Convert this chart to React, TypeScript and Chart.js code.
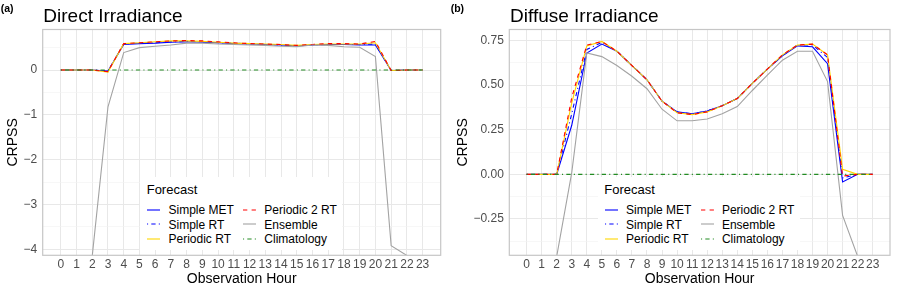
import React, { useEffect, useRef } from 'react';
import { Chart, registerables } from 'chart.js';

Chart.register(...registerables);

// ---------- data ----------
const hours = [0, 1, 2, 3, 4, 5, 6, 7, 8, 9, 10, 11, 12, 13, 14, 15, 16, 17, 18, 19, 20, 21, 22, 23];
const seriesNames = ['Simple MET', 'Simple RT', 'Periodic RT', 'Periodic 2 RT', 'Ensemble', 'Climatology'];

const directSimpleMET = [0, 0, 0, -0.02, 0.57, 0.59, 0.60, 0.62, 0.63, 0.62, 0.61, 0.59, 0.58, 0.57, 0.56, 0.54, 0.56, 0.57, 0.57, 0.56, 0.56, -0.01, 0, 0];
const directSimpleRT = [0, 0, 0, -0.02, 0.58, 0.60, 0.61, 0.63, 0.64, 0.63, 0.61, 0.60, 0.58, 0.57, 0.56, 0.54, 0.56, 0.57, 0.57, 0.57, 0.58, -0.01, 0, 0];
const directPeriodicRT = [0, 0, 0, -0.045, 0.59, 0.61, 0.63, 0.65, 0.65, 0.64, 0.62, 0.60, 0.59, 0.58, 0.57, 0.55, 0.57, 0.58, 0.58, 0.58, 0.61, -0.01, 0, 0];
const directPeriodic2RT = [0, 0, 0, -0.035, 0.59, 0.61, 0.63, 0.65, 0.66, 0.65, 0.63, 0.61, 0.59, 0.58, 0.57, 0.55, 0.57, 0.59, 0.59, 0.58, 0.64, -0.01, 0, 0];
const directEnsemble = [-4.2, -4.2, -4.15, -0.82, 0.39, 0.50, 0.53, 0.56, 0.60, 0.60, 0.58, 0.57, 0.56, 0.55, 0.53, 0.52, 0.56, 0.55, 0.52, 0.51, 0.30, -3.92, -4.14, -4.2];
const directClimatology = [0, 0, 0, 0, 0, 0, 0, 0, 0, 0, 0, 0, 0, 0, 0, 0, 0, 0, 0, 0, 0, 0, 0, 0];

const diffuseSimpleMET = [0, 0, 0, 0.275, 0.68, 0.73, 0.69, 0.61, 0.53, 0.41, 0.35, 0.34, 0.355, 0.385, 0.425, 0.51, 0.59, 0.665, 0.72, 0.715, 0.62, -0.043, 0, 0];
const diffuseSimpleRT = [0, 0, 0, 0.34, 0.70, 0.74, 0.69, 0.61, 0.53, 0.41, 0.35, 0.34, 0.355, 0.385, 0.425, 0.51, 0.59, 0.665, 0.725, 0.725, 0.655, -0.02, 0, 0];
const diffusePeriodicRT = [0, 0, 0, 0.40, 0.72, 0.745, 0.69, 0.61, 0.53, 0.41, 0.345, 0.335, 0.35, 0.385, 0.425, 0.51, 0.59, 0.67, 0.725, 0.73, 0.67, 0.028, 0, 0];
const diffusePeriodic2RT = [0, 0, 0, 0.43, 0.725, 0.745, 0.69, 0.61, 0.53, 0.41, 0.345, 0.335, 0.35, 0.385, 0.425, 0.51, 0.59, 0.67, 0.725, 0.73, 0.67, -0.01, 0, 0];
const diffuseEnsemble = [-0.5, -0.5, -0.46, 0.01, 0.68, 0.66, 0.61, 0.55, 0.48, 0.365, 0.30, 0.30, 0.31, 0.34, 0.38, 0.47, 0.556, 0.64, 0.69, 0.69, 0.52, -0.23, -0.46, -0.5];
const diffuseClimatology = [0, 0, 0, 0, 0, 0, 0, 0, 0, 0, 0, 0, 0, 0, 0, 0, 0, 0, 0, 0, 0, 0, 0, 0];

const directMajorTicks = [-4, -3, -2, -1, 0];
const directMinorTicks = [-3.5, -2.5, -1.5, -0.5, 0.5];
const diffuseMajorTicks = [-0.25, 0, 0.25, 0.5, 0.75];
const diffuseMinorTicks = [-0.375, -0.125, 0.125, 0.375, 0.625];

// ---------- styles ----------
const FONT = "'Liberation Sans', Arial, Helvetica, sans-serif";
const seriesColors = ['#0000FF', '#0000FF', '#FFD700', '#FF0000', '#A3A3A3', '#228B22'];
const DOTDASH = [1.1, 3.2, 4.3, 3.2];
const DASHED = [4.3, 4.3];
const seriesDash: number[][] = [[], DOTDASH, [], DASHED, [], DOTDASH];

const minus = (s: string) => s.replace('-', '\u2212');

const panels = [
  {
    key: 'a',
    tag: '(a)',
    title: 'Direct Irradiance',
    series: [directSimpleMET, directSimpleRT, directPeriodicRT, directPeriodic2RT, directEnsemble, directClimatology],
    yMin: -4.136,
    yMax: 0.905,
    major: directMajorTicks,
    minor: directMinorTicks,
    fmt: (v: number) => minus(String(v)),
    left: 0,
    width: 450,
    yAxisWidth: 42.7,
    rightPad: 9.3,
    titleX: 43.3,
    legendX: 146.7,
  },
  {
    key: 'b',
    tag: '(b)',
    title: 'Diffuse Irradiance',
    series: [diffuseSimpleMET, diffuseSimpleRT, diffusePeriodicRT, diffusePeriodic2RT, diffuseEnsemble, diffuseClimatology],
    yMin: -0.454,
    yMax: 0.812,
    major: diffuseMajorTicks,
    minor: diffuseMinorTicks,
    fmt: (v: number) => minus(v.toFixed(2)),
    left: 450,
    width: 449,
    yAxisWidth: 59.3,
    rightPad: 9,
    titleX: 510,
    legendX: 604.3,
  },
];

const HEIGHT = 295;

const borderPlugin = {
  id: 'panelBorder',
  afterDraw(chart: any) {
    const { ctx, chartArea: a } = chart;
    ctx.save();
    ctx.strokeStyle = '#C6C6C6';
    ctx.lineWidth = 1.2;
    ctx.strokeRect(a.left, a.top, a.right - a.left, a.bottom - a.top);
    ctx.restore();
  },
};

function Panel({ p }: { p: typeof panels[number] }) {
  const ref = useRef<HTMLCanvasElement | null>(null);
  useEffect(() => {
    if (!ref.current) return;
    const majorSet = new Set(p.major);
    const allY = [...p.major, ...p.minor].sort((a, b) => a - b);
    const datasets = seriesNames.map((name, i) => ({
      label: name,
      data: hours.map((h, j) => ({ x: h, y: p.series[i][j] })),
      borderColor: seriesColors[i],
      backgroundColor: seriesColors[i],
      borderDash: seriesDash[i],
      borderWidth: 1.1,
      pointRadius: 0,
      pointHoverRadius: 0,
      tension: 0,
      fill: false,
      order: seriesNames.length - i,
    }));
    const chart = new Chart(ref.current, {
      type: 'line',
      data: { datasets },
      options: {
        animation: false,
        responsive: false,
        events: [],
        layout: { padding: { top: 29.5, right: p.rightPad, bottom: 0, left: 0 } },
        plugins: { legend: { display: false }, tooltip: { enabled: false } },
        scales: {
          x: {
            type: 'linear',
            min: -1.15,
            max: 24.15,
            afterBuildTicks: (scale: any) => {
              scale.ticks = hours.map((h) => ({ value: h }));
            },
            afterFit: (scale: any) => {
              scale.height = 39.7;
            },
            ticks: {
              autoSkip: false,
              maxRotation: 0,
              minRotation: 0,
              padding: 1.7,
              color: '#4D4D4D',
              font: { family: FONT, size: 12 },
              callback: (v: any) => String(v),
            },
            grid: { color: '#E8E8E8', lineWidth: 1, drawTicks: false },
            border: { display: false },
            title: {
              display: true,
              text: 'Observation Hour',
              color: '#000000',
              font: { family: FONT, size: 14 },
              padding: { top: 0, bottom: 7.6 },
            },
          },
          y: {
            type: 'linear',
            min: p.yMin,
            max: p.yMax,
            afterBuildTicks: (scale: any) => {
              scale.ticks = allY.map((v) => ({ value: v }));
            },
            afterFit: (scale: any) => {
              scale.width = p.yAxisWidth;
            },
            ticks: {
              padding: 5.5,
              color: '#4D4D4D',
              font: { family: FONT, size: 12 },
              callback: (v: any) => (majorSet.has(Number(v)) ? p.fmt(Number(v)) : ''),
            },
            grid: {
              drawTicks: false,
              color: (ctx: any) => (majorSet.has(ctx.tick?.value) ? '#E8E8E8' : '#F1F1F1'),
              lineWidth: (ctx: any) => (majorSet.has(ctx.tick?.value) ? 1 : 0.6),
            },
            border: { display: false },
            title: {
              display: true,
              text: 'CRPSS',
              color: '#000000',
              font: { family: FONT, size: 14 },
              padding: { top: 4.8, bottom: 0 },
            },
          },
        },
      },
      plugins: [borderPlugin],
    } as any);
    return () => chart.destroy();
  }, [p]);

  return (
    <div style={{ position: 'absolute', left: p.left, top: 0, width: p.width, height: HEIGHT }}>
      <canvas ref={ref} width={p.width} height={HEIGHT} style={{ width: p.width, height: HEIGHT, display: 'block' }} />
    </div>
  );
}

const textBase: React.CSSProperties = {
  position: 'absolute',
  whiteSpace: 'nowrap',
  fontFamily: FONT,
  color: '#000',
  margin: 0,
};

function Legend({ x0 }: { x0: number }) {
  const textOffsets = [21.8, 117.6];
  const keyOffsets = [0.3, 96.2];
  return (
    <>
      <div style={{ position: 'absolute', left: x0 - 6.7, top: 177, width: 202, height: 73, background: '#FFFFFF' }} />
      <div style={{ ...textBase, left: x0, top: 194.3 - 0.8465 * 13, fontSize: 13, lineHeight: '13px' }}>Forecast</div>
      {seriesNames.map((name, i) => {
        const col = i < 3 ? 0 : 1;
        const row = i % 3;
        const baseline = 213.8 + row * 14.9;
        const keyY = baseline - 4.3;
        return (
          <React.Fragment key={name}>
            <svg
              width={13}
              height={6}
              style={{ position: 'absolute', left: x0 + keyOffsets[col], top: keyY - 3 }}
            >
              <line
                x1={0}
                y1={3}
                x2={13}
                y2={3}
                stroke={seriesColors[i]}
                strokeWidth={1.1}
                strokeDasharray={seriesDash[i].length ? seriesDash[i].join(' ') : undefined}
              />
            </svg>
            <div
              style={{
                ...textBase,
                left: x0 + textOffsets[col],
                top: baseline - 0.8465 * 12,
                fontSize: 12,
                lineHeight: '12px',
              }}
            >
              {name}
            </div>
          </React.Fragment>
        );
      })}
    </>
  );
}

export default function App() {
  useEffect(() => {
    document.body.style.margin = '0';
  }, []);
  return (
    <div style={{ position: 'absolute', left: 0, top: 0, width: 899, height: HEIGHT, background: '#FFFFFF', overflow: 'hidden' }}>
      {panels.map((p) => (
        <Panel key={p.key} p={p} />
      ))}
      {panels.map((p) => (
        <React.Fragment key={p.key + 'txt'}>
          <div style={{ ...textBase, left: p.left + 0.7, top: 12 - 0.8465 * 10.5, fontSize: 10.5, lineHeight: '10.5px', fontWeight: 'bold' }}>
            {p.tag}
          </div>
          <div style={{ ...textBase, left: p.titleX, top: 21.7 - 0.8465 * 19, fontSize: 19, lineHeight: '19px' }}>{p.title}</div>
          <Legend x0={p.legendX} />
        </React.Fragment>
      ))}
    </div>
  );
}
